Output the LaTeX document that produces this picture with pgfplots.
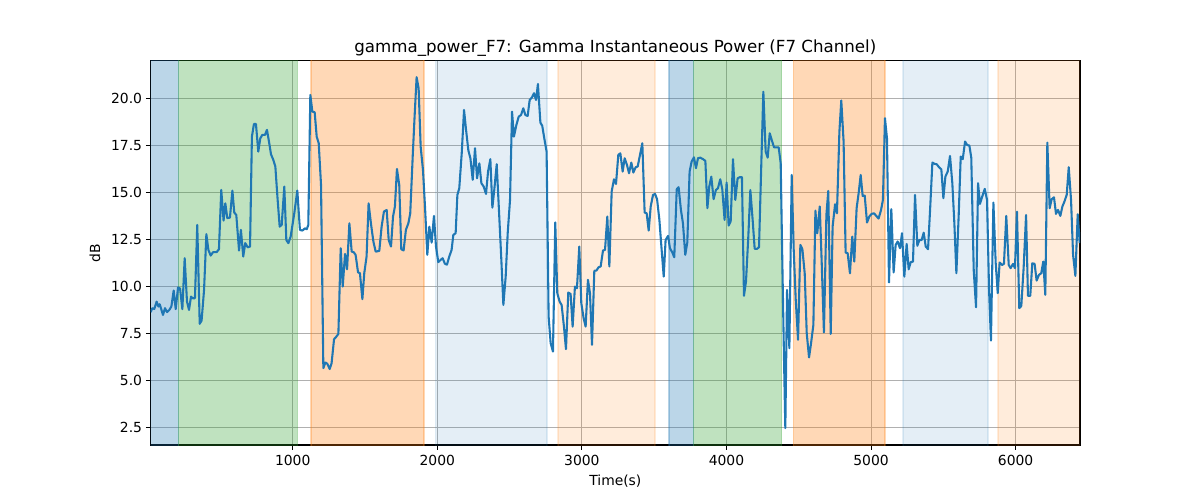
\documentclass[border=0pt]{standalone}
\usepackage{pgfplots}
\pgfplotsset{compat=1.18}
\usepackage{fontspec}
\setmainfont{DejaVu Sans}
\definecolor{tabblue}{HTML}{1F77B4}
\definecolor{taborange}{HTML}{FF7F0E}
\definecolor{tabgreen}{HTML}{2CA02C}
\definecolor{gridgray}{HTML}{B0B0B0}
\pgfkeys{/pgf/number format/assume math mode=true}
\begin{document}
\begin{tikzpicture}
\path[use as bounding box] (0pt,0pt) rectangle (864pt,360pt);
\begin{axis}[
  at={(108.5pt,39.6pt)}, anchor=south west,
  scale only axis, width=669.1pt, height=276.7pt,
  xmin=18, xmax=6445, ymin=1.55, ymax=22.0,
  xtick={1000,2000,3000,4000,5000,6000},
  ytick={2.5,5.0,7.5,10.0,12.5,15.0,17.5,20.0},
  xtick pos=left, ytick pos=left,
  tick align=outside, major tick length=3.5pt,
  grid=major, grid style={gridgray, line width=0.8pt},
  axis line style={line width=0.8pt, black},
  tick style={black, line width=0.8pt},
  scaled ticks=false,
  tick label style={font=\fontsize{10}{12}\selectfont},
  xticklabel style={anchor=north, inner sep=0pt, yshift=-3.9pt, /pgf/number format/1000 sep={}, /pgf/number format/assume math mode=true},
  yticklabel style={anchor=east, inner sep=0pt, xshift=-2.5pt,
    /pgf/number format/fixed, /pgf/number format/fixed zerofill, /pgf/number format/precision=1, /pgf/number format/assume math mode=true},
  title={gamma\_power\_F7: Gamma Instantaneous Power (F7 Channel)},
  title style={at={(axis description cs:0.5,1)}, anchor=base, yshift=0pt, inner sep=0pt, font=\fontsize{12}{14}\selectfont},
  xlabel={Time(s)},
  xlabel style={at={(axis description cs:0.5,0)}, anchor=base, yshift=-29.5pt, inner sep=0pt, font=\fontsize{10}{12}\selectfont},
  ylabel={dB},
  ylabel style={at={(axis description cs:-0.0599,0.5)}, anchor=center, inner sep=0pt, font=\fontsize{10}{12}\selectfont},
]
% shaded phases
\addplot[fill=tabblue, fill opacity=0.3, draw=tabblue, draw opacity=0.3, line width=1pt]
  coordinates {(0,-5) (211,-5) (211,30) (0,30) (0,-5)};
\addplot[fill=tabgreen, fill opacity=0.3, draw=tabgreen, draw opacity=0.3, line width=1pt]
  coordinates {(211,-5) (1032,-5) (1032,30) (211,30) (211,-5)};
\addplot[fill=taborange, fill opacity=0.3, draw=taborange, draw opacity=0.3, line width=1pt]
  coordinates {(1127,-5) (1908,-5) (1908,30) (1127,30) (1127,-5)};
\addplot[fill=tabblue, fill opacity=0.12, draw=tabblue, draw opacity=0.12, line width=1pt]
  coordinates {(1989,-5) (2759,-5) (2759,30) (1989,30) (1989,-5)};
\addplot[fill=taborange, fill opacity=0.15, draw=taborange, draw opacity=0.15, line width=1pt]
  coordinates {(2835,-5) (3506,-5) (3506,30) (2835,30) (2835,-5)};
\addplot[fill=tabblue, fill opacity=0.3, draw=tabblue, draw opacity=0.3, line width=1pt]
  coordinates {(3602,-5) (3773,-5) (3773,30) (3602,30) (3602,-5)};
\addplot[fill=tabgreen, fill opacity=0.3, draw=tabgreen, draw opacity=0.3, line width=1pt]
  coordinates {(3773,-5) (4382,-5) (4382,30) (3773,30) (3773,-5)};
\addplot[fill=taborange, fill opacity=0.3, draw=taborange, draw opacity=0.3, line width=1pt]
  coordinates {(4462,-5) (5096,-5) (5096,30) (4462,30) (4462,-5)};
\addplot[fill=tabblue, fill opacity=0.12, draw=tabblue, draw opacity=0.12, line width=1pt]
  coordinates {(5221,-5) (5809,-5) (5809,30) (5221,30) (5221,-5)};
\addplot[fill=taborange, fill opacity=0.15, draw=taborange, draw opacity=0.15, line width=1pt]
  coordinates {(5878,-5) (6500,-5) (6500,30) (5878,30) (5878,-5)};
% signal
\addplot[tabblue, line width=1.5pt, line join=round, mark=none] table {
x y
18 8.62
29 8.83
43 8.79
59 9.18
71 8.92
80 9.04
89 8.83
103 8.47
117 8.83
131 8.62
147 8.74
161 8.92
177 9.77
191 8.78
207 9.93
221 9.88
237 8.78
253 11.49
269 9.18
283 8.74
297 9.45
308 9.36
324 9.36
340 13.26
357 8.00
370 8.17
387 9.80
403 12.77
417 11.93
433 11.63
449 11.81
474 11.81
490 11.97
506 15.12
522 13.49
534 14.41
548 13.62
566 13.65
583 15.09
596 13.92
610 13.79
629 11.90
642 13.00
658 11.58
672 12.29
689 12.07
705 12.11
718 17.96
732 18.63
746 18.63
762 17.16
776 17.87
790 18.05
808 18.05
822 18.32
836 17.70
850 17.02
866 16.72
880 16.37
896 14.59
910 13.17
924 13.26
942 15.30
956 12.46
970 12.29
986 12.64
1011 13.88
1032 15.09
1050 13.00
1067 12.96
1085 13.08
1097 13.03
1108 13.26
1122 20.18
1136 19.29
1152 19.26
1166 17.96
1180 17.61
1196 15.39
1212 5.64
1226 5.94
1240 5.87
1256 5.59
1269 5.90
1286 7.18
1299 7.29
1316 7.46
1332 12.02
1346 9.98
1362 11.72
1376 10.90
1392 13.35
1408 11.84
1422 11.81
1435 11.67
1452 10.74
1465 10.69
1482 9.31
1495 10.69
1511 11.58
1525 14.41
1541 13.35
1558 12.38
1574 11.84
1599 11.88
1615 13.17
1631 13.97
1650 14.06
1664 12.46
1680 12.11
1694 13.71
1707 14.24
1721 16.24
1737 15.39
1751 11.97
1767 11.90
1783 13.00
1800 13.35
1813 13.88
1830 16.90
1843 19.02
1857 21.12
1871 20.53
1885 17.43
1901 16.19
1915 14.24
1931 11.67
1945 13.17
1961 12.32
1977 13.74
1991 12.11
2007 11.28
2023 11.40
2037 11.49
2053 11.19
2067 11.15
2083 11.58
2099 11.93
2111 12.73
2127 12.82
2139 14.86
2152 15.21
2169 17.07
2185 19.38
2199 18.32
2215 17.22
2229 16.81
2245 15.66
2261 17.34
2275 15.74
2291 16.54
2305 15.48
2321 15.30
2337 14.91
2351 16.10
2367 16.76
2381 14.18
2394 15.12
2411 16.49
2427 13.97
2443 11.40
2457 9.00
2473 10.51
2487 12.82
2503 14.59
2517 19.29
2530 17.96
2547 18.58
2563 19.02
2579 19.11
2595 19.47
2609 19.11
2625 19.06
2639 19.91
2655 20.05
2669 20.27
2683 19.91
2696 20.76
2713 18.71
2726 18.53
2740 17.87
2756 17.16
2770 8.39
2784 6.97
2800 6.52
2816 13.39
2830 9.63
2846 9.18
2860 9.00
2876 7.85
2890 6.65
2906 9.66
2922 9.59
2936 7.85
2952 9.98
2966 9.89
2982 12.11
2996 9.10
3012 8.30
3026 7.85
3042 10.34
3056 9.63
3070 6.88
3086 10.82
3100 10.83
3116 11.01
3130 11.05
3146 11.90
3160 11.93
3176 13.71
3190 11.05
3206 15.04
3222 15.69
3236 15.44
3252 16.99
3266 17.07
3282 16.10
3296 16.81
3312 16.45
3326 16.01
3342 16.58
3356 16.05
3372 16.33
3386 16.37
3402 16.99
3418 17.61
3434 13.92
3448 13.88
3462 12.96
3476 14.24
3492 14.86
3506 14.91
3520 14.63
3536 13.53
3549 12.20
3566 10.51
3579 12.46
3596 12.68
3609 12.02
3626 11.79
3639 11.54
3656 15.16
3669 15.27
3685 14.06
3699 13.35
3715 11.67
3729 12.32
3745 16.10
3759 16.63
3775 16.86
3789 16.28
3803 16.81
3819 16.84
3838 16.76
3854 16.67
3868 14.15
3881 15.30
3895 15.83
3911 14.63
3927 15.12
3941 15.21
3957 15.69
3971 15.16
3987 13.53
4001 15.51
4015 13.23
4029 13.44
4045 16.76
4061 14.59
4077 15.74
4091 15.80
4107 15.80
4121 9.49
4135 10.25
4151 12.64
4165 15.12
4181 13.53
4195 11.99
4211 11.99
4225 12.07
4241 16.54
4255 20.35
4271 17.16
4285 16.84
4299 18.14
4313 17.78
4329 17.39
4347 17.39
4361 17.39
4375 16.54
4386 11.40
4398 6.08
4407 2.45
4419 9.80
4435 6.70
4451 15.92
4465 11.93
4479 9.27
4495 7.15
4511 12.20
4525 11.97
4541 10.69
4555 7.50
4571 6.21
4585 6.97
4601 7.94
4615 14.02
4628 12.82
4645 14.24
4658 11.40
4674 7.54
4691 13.79
4704 15.07
4721 7.46
4734 13.17
4751 14.36
4764 13.88
4781 18.23
4794 19.88
4810 17.70
4824 11.79
4838 11.76
4854 10.69
4870 12.64
4884 11.31
4900 14.15
4914 14.95
4928 15.92
4942 14.80
4956 14.82
4972 13.39
4988 13.71
5004 13.85
5020 13.88
5036 13.74
5052 13.60
5069 14.06
5082 14.59
5096 18.94
5110 17.87
5124 10.20
5140 14.10
5156 10.73
5170 12.20
5184 12.38
5200 12.02
5214 12.82
5230 10.51
5246 12.25
5260 10.90
5274 11.28
5290 11.31
5304 14.86
5320 12.15
5334 12.46
5350 12.46
5364 12.85
5378 12.11
5394 11.97
5409 14.20
5424 16.58
5440 16.51
5454 16.49
5470 16.33
5486 16.22
5500 14.68
5514 15.83
5530 16.10
5546 16.93
5562 15.48
5576 13.35
5590 10.69
5606 13.79
5620 16.90
5634 16.76
5650 17.70
5664 17.52
5680 17.48
5693 16.84
5710 10.83
5726 8.88
5740 15.48
5753 14.38
5770 14.80
5786 15.18
5802 14.59
5816 9.80
5829 7.11
5846 14.45
5862 11.22
5876 9.63
5889 11.26
5906 11.13
5919 11.19
5935 13.74
5952 11.13
5965 10.96
5982 11.19
5995 10.96
6009 13.97
6025 8.83
6039 8.95
6055 10.96
6072 13.79
6085 9.49
6101 9.49
6115 11.22
6131 11.19
6145 10.30
6161 10.60
6177 10.69
6191 11.31
6205 9.54
6219 17.64
6235 14.15
6249 14.63
6265 14.73
6279 13.85
6293 14.06
6309 13.74
6323 14.24
6337 14.50
6353 14.86
6367 16.33
6383 14.59
6397 11.67
6413 10.55
6429 13.83
6443 12.29
};
\end{axis}
\end{tikzpicture}
\end{document}
